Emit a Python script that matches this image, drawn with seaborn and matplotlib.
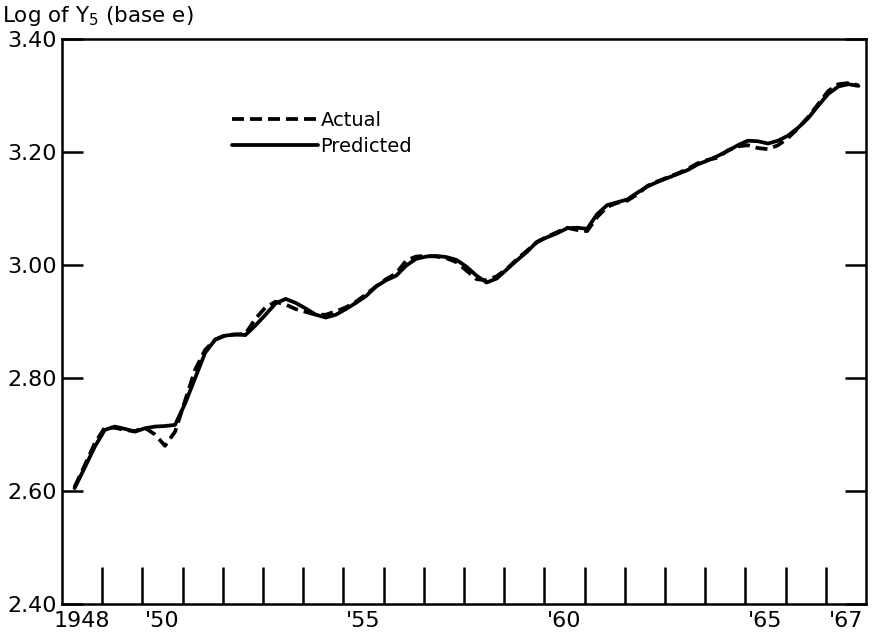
import numpy as np
import pandas as pd
import matplotlib
matplotlib.use("Agg")
import matplotlib.pyplot as plt
import seaborn as sns

# ---- data (quarterly, 1948 Q2 .. 1967 Q4) ----
start_year = 1948
start_quarter = 2
predicted = [
    2.605, 2.641, 2.678,
    2.708, 2.714, 2.710, 2.705,
    2.711, 2.714, 2.715, 2.717,
    2.755, 2.800, 2.845, 2.868,
    2.875, 2.877, 2.876, 2.893,
    2.912, 2.932, 2.940, 2.933,
    2.923, 2.912, 2.907, 2.912,
    2.922, 2.933, 2.945, 2.962,
    2.973, 2.981, 2.999, 3.011,
    3.015, 3.016, 3.014, 3.009,
    2.997, 2.981, 2.969, 2.976,
    2.992, 3.008, 3.023, 3.041,
    3.049, 3.056, 3.065, 3.066,
    3.064, 3.090, 3.106, 3.111,
    3.116, 3.128, 3.139, 3.147,
    3.154, 3.161, 3.168, 3.178,
    3.185, 3.193, 3.202, 3.212,
    3.220, 3.219, 3.215, 3.220,
    3.229, 3.243, 3.260, 3.282,
    3.303, 3.316, 3.320, 3.317,
]
actual = [
    2.607, 2.645, 2.684,
    2.712, 2.712, 2.708, 2.706,
    2.712, 2.700, 2.680, 2.705,
    2.760, 2.815, 2.850, 2.868,
    2.876, 2.877, 2.878, 2.905,
    2.925, 2.935, 2.930, 2.922,
    2.917, 2.912, 2.912, 2.918,
    2.925, 2.935, 2.948, 2.962,
    2.975, 2.985, 3.008, 3.015,
    3.016, 3.015, 3.012, 3.005,
    2.990, 2.975, 2.973, 2.980,
    2.993, 3.010, 3.025, 3.040,
    3.050, 3.058, 3.066, 3.062,
    3.060, 3.085, 3.103, 3.110,
    3.114, 3.125, 3.140, 3.148,
    3.155, 3.162, 3.170, 3.180,
    3.186, 3.190, 3.203, 3.210,
    3.212, 3.207, 3.205, 3.212,
    3.225, 3.242, 3.262, 3.285,
    3.308, 3.320, 3.322, 3.318,
]
y_ticks = [2.40, 2.60, 2.80, 3.00, 3.20, 3.40]
y_tick_labels = ["2.40", "2.60", "2.80", "3.00", "3.20", "3.40"]
year_label_years = [1948, 1950, 1955, 1960, 1965, 1967]
year_labels = ["1948", "'50", "'55", "'60", "'65", "'67"]
boundary_years = list(range(1949, 1968))

n = len(predicted)
qidx = np.arange(n) + (start_quarter - 1)
years = start_year + qidx // 4
quarters = qidx % 4 + 1
t = years + (quarters - 0.75) / 4.0

df = pd.DataFrame({"t": t, "Actual": actual, "Predicted": predicted})

sns.set_theme(style="white")
plt.rcParams["font.family"] = ["DejaVu Sans"]
plt.rcParams["text.color"] = "black"
plt.rcParams["xtick.color"] = "black"
plt.rcParams["ytick.color"] = "black"
plt.rcParams["xtick.labelcolor"] = "black"
plt.rcParams["ytick.labelcolor"] = "black"

fig = plt.figure(figsize=(8.72, 6.41), dpi=100)
ax = fig.add_axes([62 / 872, 1 - 604 / 641, 804 / 872, 565 / 641])

sns.lineplot(data=df, x="t", y="Actual", ax=ax, color="black", lw=2.7,
             linestyle=(0, (3.2, 1.6)), label="Actual")
sns.lineplot(data=df, x="t", y="Predicted", ax=ax, color="black", lw=2.7,
             label="Predicted")

ax.set_xlim(1948, 1968)
ax.set_ylim(2.40, 3.40)
ax.set_xlabel("")
ax.set_ylabel("")

for s in ax.spines.values():
    s.set_color("black")
    s.set_linewidth(1.8)

# y ticks: inward on both sides
ax.set_yticks(y_ticks)
ax.set_yticklabels(y_tick_labels, fontsize=16)
ax.tick_params(axis="y", which="major", direction="in", length=15, width=1.8,
               left=True, right=True, labelleft=True, labelright=False, pad=4,
               color="black", labelcolor="black")

# x ticks: year boundaries inward (no labels), labels at mid-year (no marks)
ax.set_xticks(boundary_years)
ax.set_xticklabels([])
ax.tick_params(axis="x", which="major", direction="in", length=27, width=1.8,
               bottom=True, top=False, color="black")
ax.set_xticks([y + 0.5 for y in year_label_years], minor=True)
ax.set_xticklabels(year_labels, minor=True, fontsize=16)
ax.tick_params(axis="x", which="minor", length=0, pad=5, labelcolor="black")

leg = ax.legend(loc="upper left", bbox_to_anchor=((232 - 62) / 804, (604 - 111) / 565),
                frameon=False, fontsize=14, handlelength=4.4, handletextpad=0.15,
                labelspacing=0.35, borderpad=0, borderaxespad=0)
for txt in leg.get_texts():
    txt.set_color("black")

fig.text(2 / 872, 1 - 16 / 641, r"Log of Y$_{\mathregular{5}}$ (base e)", fontsize=15.5,
         va="center", ha="left", color="black")

fig.savefig("out.png", dpi=100, facecolor="white")
